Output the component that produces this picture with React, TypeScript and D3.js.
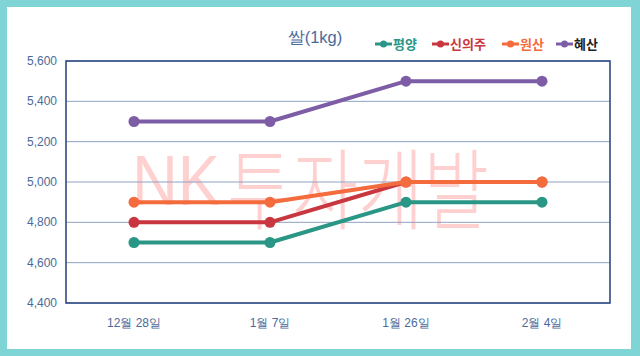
import React from "react";
import * as d3 from "d3";

const categories = ["12월 28일", "1월 7일", "1월 26일", "2월 4일"];
const seriesNames = ["평양", "신의주", "원산", "혜산"];
const pyongyang = [4700, 4700, 4900, 4900];
const sinuiju = [4800, 4800, 5000, 5000];
const wonsan = [4900, 4900, 5000, 5000];
const hyesan = [5300, 5300, 5500, 5500];
const yTicks = [4400, 4600, 4800, 5000, 5200, 5400, 5600];
const colors = ["#2a9685", "#c8373f", "#f46b3d", "#7d5ea6"];
const legendTextColors = ["#2a9685", "#c8373f", "#f46b3d", "#222222"];

const W = 640, H = 356;
const plot = { left: 66, right: 610, top: 61, bottom: 303 };

export default function App() {
  const x = d3.scaleBand<string>().domain(categories).range([plot.left, plot.right]);
  const y = d3.scaleLinear().domain([4400, 5600]).range([plot.bottom, plot.top]);
  const data = [pyongyang, sinuiju, wonsan, hyesan];
  const line = d3
    .line<number>()
    .x((_, i) => (x(categories[i]) as number) + x.bandwidth() / 2)
    .y((d) => y(d));
  const fmt = d3.format(",");
  const legendX = [375, 432, 502, 556];
  const axisColor = "#4b6a9b";
  return (
    <svg width={W} height={H} style={{ position: "absolute", left: 0, top: 0 }} fontFamily="'Liberation Sans', Arial, sans-serif">
      <rect x={0} y={0} width={W} height={H} fill="#7fd5d5" />
      <rect x={7} y={7} width={624} height={342} fill="#ffffff" />
      <g fill="#ffd0d0">
        <text x={132} y={205} fontSize={70} fontFamily="'Liberation Sans', Arial, sans-serif" textLength={88} lengthAdjust="spacingAndGlyphs">
          NK
        </text>
        <text
          x={227}
          y={222}
          fontSize={88}
          fontWeight={300}
          fontFamily="'Noto Sans CJK KR', sans-serif"
          textLength={262}
          lengthAdjust="spacingAndGlyphs"
        >
          투자개발
        </text>
      </g>
      {yTicks.map((t) => (
        <line key={t} x1={plot.left} x2={plot.right} y1={y(t)} y2={y(t)} stroke="#8ea2c4" strokeWidth={1} />
      ))}
      <rect x={plot.left} y={plot.top} width={plot.right - plot.left} height={plot.bottom - plot.top} fill="none" stroke="#2d4c85" strokeWidth={1.6} />
      {yTicks.map((t) => (
        <text key={t} x={57} y={y(t) + 4} textAnchor="end" fontSize={12} fill={axisColor}>
          {fmt(t)}
        </text>
      ))}
      {categories.map((c) => (
        <text key={c} x={(x(c) as number) + x.bandwidth() / 2} y={327} textAnchor="middle" fontSize={12} fill={axisColor}>
          {c}
        </text>
      ))}
      {data.map((s, i) => (
        <g key={i}>
          <path d={line(s) || ""} fill="none" stroke={colors[i]} strokeWidth={4} strokeLinejoin="round" />
          {s.map((v, j) => (
            <circle key={j} cx={(x(categories[j]) as number) + x.bandwidth() / 2} cy={y(v)} r={5.5} fill={colors[i]} />
          ))}
        </g>
      ))}
      <text x={315} y={43} textAnchor="middle" fontSize={16.5} fill={axisColor}>
        쌀(1kg)
      </text>
      {seriesNames.map((n, i) => (
        <g key={n}>
          <line x1={legendX[i]} x2={legendX[i] + 17} y1={44} y2={44} stroke={colors[i]} strokeWidth={3} />
          <circle cx={legendX[i] + 8.5} cy={44} r={3.5} fill={colors[i]} />
          <text x={legendX[i] + 18} y={49} fontSize={13} fontWeight="bold" fill={legendTextColors[i]} fontFamily="'Noto Sans CJK KR', sans-serif">
            {n}
          </text>
        </g>
      ))}
    </svg>
  );
}
